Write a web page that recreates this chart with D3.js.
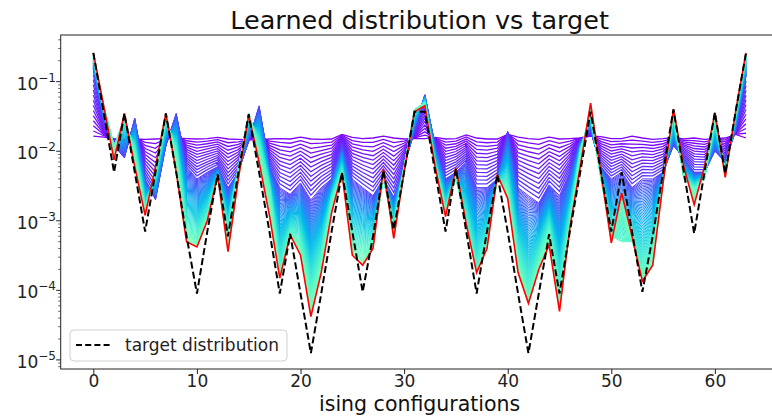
<!DOCTYPE html>
<html><head><meta charset="utf-8">
<script src="https://cdn.jsdelivr.net/npm/d3@7"></script>
<style>body{margin:0;background:#fff}svg{display:block}</style>
</head><body>
<svg id="chart" width="772" height="419"></svg>
<script>
// ---------- data ----------
const configs = d3.range(64);
const target = [
0.26, 0.036, 0.005, 0.035, 0.005, 0.0007, 0.005, 0.035,
0.005, 0.0006, 0.00009, 0.0007, 0.0047, 0.0006, 0.005, 0.034,
0.005, 0.0007, 0.00009, 0.00065, 0.00009, 0.0000125, 0.00009, 0.0007,
0.0049, 0.0007, 0.000095, 0.0006, 0.0053, 0.00075, 0.005, 0.037,
0.037, 0.005, 0.0007, 0.0056, 0.0007, 0.00009, 0.0007, 0.0046,
0.0007, 0.00009, 0.0000125, 0.00009, 0.00064, 0.00009, 0.0007, 0.005,
0.037, 0.005, 0.0007, 0.005, 0.0007, 0.000095, 0.0006, 0.005,
0.04, 0.005, 0.00066, 0.005, 0.036, 0.0048, 0.037, 0.257];
const learnedStart = [
0.0165, 0.016, 0.0152, 0.0148, 0.015, 0.0148, 0.015, 0.0152,
0.0155, 0.0152, 0.015, 0.0152, 0.0158, 0.015, 0.0148, 0.0146,
0.0146, 0.015, 0.0152, 0.015, 0.016, 0.015, 0.0148, 0.015,
0.0175, 0.0158, 0.0152, 0.0155, 0.0165, 0.0155, 0.015, 0.0152,
0.0152, 0.0158, 0.015, 0.0152, 0.0172, 0.0155, 0.015, 0.015,
0.0175, 0.016, 0.0152, 0.0148, 0.016, 0.015, 0.0152, 0.0155,
0.0165, 0.0162, 0.0152, 0.0152, 0.0165, 0.0155, 0.0148, 0.0152,
0.0158, 0.015, 0.0155, 0.0148, 0.0152, 0.0155, 0.0175, 0.0155];
const learnedMid = [
0.15, 0.028, 0.012, 0.008, 0.03, 0.004, 0.002, 0.012,
0.035, 0.006, 0.004, 0.005, 0.006, 0.003, 0.005, 0.014,
0.045, 0.006, 0.003, 0.0024, 0.0035, 0.002, 0.003, 0.004,
0.012, 0.004, 0.003, 0.0023, 0.004, 0.0022, 0.006, 0.02,
0.065, 0.012, 0.004, 0.005, 0.007, 0.003, 0.003, 0.004,
0.019, 0.003, 0.0023, 0.0018, 0.0033, 0.0023, 0.005, 0.014,
0.02, 0.006, 0.004, 0.005, 0.003, 0.004, 0.004, 0.005,
0.012, 0.008, 0.005, 0.005, 0.01, 0.007, 0.02, 0.12];
const learnedLate = [
0.24, 0.045, 0.012, 0.03, 0.01, 0.0015, 0.005, 0.03,
0.01, 0.0008, 0.0006, 0.0012, 0.004, 0.0007, 0.006, 0.035,
0.012, 0.003, 0.0002, 0.0007, 0.0005, 0.0001, 0.0003, 0.002,
0.005, 0.0005, 0.0004, 0.0005, 0.004, 0.0008, 0.006, 0.04,
0.05, 0.006, 0.0015, 0.004, 0.001, 0.0002, 0.0005, 0.004,
0.003, 0.0003, 0.0001, 0.0003, 0.0008, 0.0001, 0.001, 0.01,
0.035, 0.004, 0.0006, 0.0005, 0.0005, 0.0002, 0.0004, 0.004,
0.035, 0.004, 0.003, 0.004, 0.03, 0.005, 0.035, 0.24];
const learnedFinal = [
0.26, 0.045, 0.0075, 0.035, 0.006, 0.0012, 0.006, 0.035,
0.005, 0.0005, 0.00042, 0.001, 0.0045, 0.00036, 0.004, 0.033,
0.007, 0.0012, 0.00015, 0.00063, 0.00032, 0.000042, 0.00018, 0.0013,
0.0049, 0.00032, 0.00023, 0.0004, 0.0056, 0.00056, 0.005, 0.037,
0.045, 0.006, 0.00115, 0.0058, 0.0009, 0.00018, 0.0004, 0.0046,
0.0021, 0.00018, 0.000065, 0.0002, 0.00045, 0.00005, 0.0008, 0.006,
0.049, 0.005, 0.00048, 0.0025, 0.0006, 0.000135, 0.00023, 0.0035,
0.04, 0.006, 0.0017, 0.006, 0.036, 0.0042, 0.037, 0.26];
// number of recorded curves between successive snapshots
const stageCounts = [13, 56, 14];
const xTicks = [0, 10, 20, 30, 40, 50, 60];
const yTicks = [1e-5, 1e-4, 1e-3, 1e-2, 1e-1];
const yTickExponents = ["\u22125", "\u22124", "\u22123", "\u22122", "\u22121"];
const titleText = "Learned distribution vs target";
const xLabelText = "ising configurations";
const legendText = "target distribution";

// ---------- layout ----------
const svg = d3.select("#chart");
const L = 60.7, R = 778.6, T = 35, B = 369;
const x = d3.scaleLinear().domain([-3.15, 66.15]).range([L, R]);
const y = d3.scaleLog().domain([7.4e-6, 0.469]).range([B, T]);
const font = "DejaVu Sans, sans-serif";

function rainbow(t) { // matplotlib 'rainbow'
  const r = Math.min(1, Math.abs(2 * t - 0.5));
  const g = Math.sin(Math.PI * t);
  const b = Math.cos(Math.PI * t / 2);
  return d3.rgb(r * 255, g * 255, b * 255).toString();
}

const line = d3.line().x((d, i) => x(configs[i])).y(d => y(d));

svg.append("defs").append("clipPath").attr("id", "clip")
  .append("rect").attr("x", L).attr("y", T).attr("width", R - L).attr("height", B - T);
const plot = svg.append("g").attr("clip-path", "url(#clip)");

// learned curves history
const snaps = [learnedStart, learnedMid, learnedLate, learnedFinal];
const curves = [];
stageCounts.forEach((n, s) => {
  for (let k = 0; k < n; k++) {
    const f = k / n;
    curves.push({stage: s, v: configs.map(i => Math.exp(Math.log(snaps[s][i]) * (1 - f) + Math.log(snaps[s + 1][i]) * f))});
  }
});
const total = curves.length;
curves.forEach((c, j) => {
  plot.append("path").attr("d", line(c.v)).attr("fill", "none")
    .attr("stroke", rainbow(0.5 * j / total)).attr("stroke-width", c.stage === 0 ? 1.3 : 1);
});
plot.append("path").attr("d", line(learnedFinal)).attr("fill", "none")
  .attr("stroke", "#ff0000").attr("stroke-width", 1.6);
plot.append("path").attr("d", line(target)).attr("fill", "none")
  .attr("stroke", "#000").attr("stroke-width", 2).attr("stroke-dasharray", "7,3.2");

// spines
const ax = svg.append("g").attr("stroke", "#222").attr("stroke-width", 1).attr("fill", "none");
ax.append("rect").attr("x", L).attr("y", T).attr("width", R - L).attr("height", B - T);

// x axis
const xAxis = svg.append("g").attr("transform", `translate(0,${B})`)
  .call(d3.axisBottom(x).tickValues(xTicks).tickSize(5).tickPadding(1).tickFormat(d3.format("d")));
xAxis.select(".domain").remove();
xAxis.selectAll("line").attr("stroke", "#222");
xAxis.selectAll("text").attr("font-family", font).attr("font-size", 17).attr("fill", "#222");

// y axis: minor ticks
const minor = [];
for (let e = -6; e <= 0; e++) for (let m = 2; m <= 9; m++) {
  const v = m * Math.pow(10, e);
  if (v > y.domain()[0] && v < y.domain()[1]) minor.push(v);
}
svg.append("g").selectAll("line").data(minor).join("line")
  .attr("x1", L - 2.5).attr("x2", L).attr("y1", d => y(d)).attr("y2", d => y(d))
  .attr("stroke", "#222").attr("stroke-width", 0.7);
const yg = svg.append("g");
yg.selectAll("line").data(yTicks).join("line")
  .attr("x1", L - 4.5).attr("x2", L).attr("y1", d => y(d)).attr("y2", d => y(d))
  .attr("stroke", "#222").attr("stroke-width", 1);
const yl = yg.selectAll("text").data(yTicks).join("text")
  .attr("x", 56).attr("y", d => y(d) + 8).attr("text-anchor", "end")
  .attr("font-family", font).attr("font-size", 17).attr("fill", "#222");
yl.append("tspan").text("10");
yl.append("tspan").attr("font-size", 12).attr("dy", -8).text((d, i) => yTickExponents[i]);

// title & label
svg.append("text").attr("x", (L + R) / 2).attr("y", 29).attr("text-anchor", "middle")
  .attr("font-family", font).attr("font-size", 25.5).attr("fill", "#111").text(titleText);
svg.append("text").attr("x", (L + R) / 2).attr("y", 411).attr("text-anchor", "middle")
  .attr("font-family", font).attr("font-size", 20.5).attr("fill", "#111").text(xLabelText);

// legend
const lg = svg.append("g");
lg.append("rect").attr("x", 70).attr("y", 330).attr("width", 217).attr("height", 31).attr("rx", 4)
  .attr("fill", "#fff").attr("fill-opacity", 0.85).attr("stroke", "#d0d0d0").attr("stroke-width", 1);
lg.append("line").attr("x1", 76).attr("x2", 110).attr("y1", 345).attr("y2", 345)
  .attr("stroke", "#000").attr("stroke-width", 2).attr("stroke-dasharray", "6,3.2");
lg.append("text").attr("x", 125).attr("y", 351).attr("font-family", font).attr("font-size", 17)
  .attr("fill", "#222").text(legendText);
</script>
</body></html>
